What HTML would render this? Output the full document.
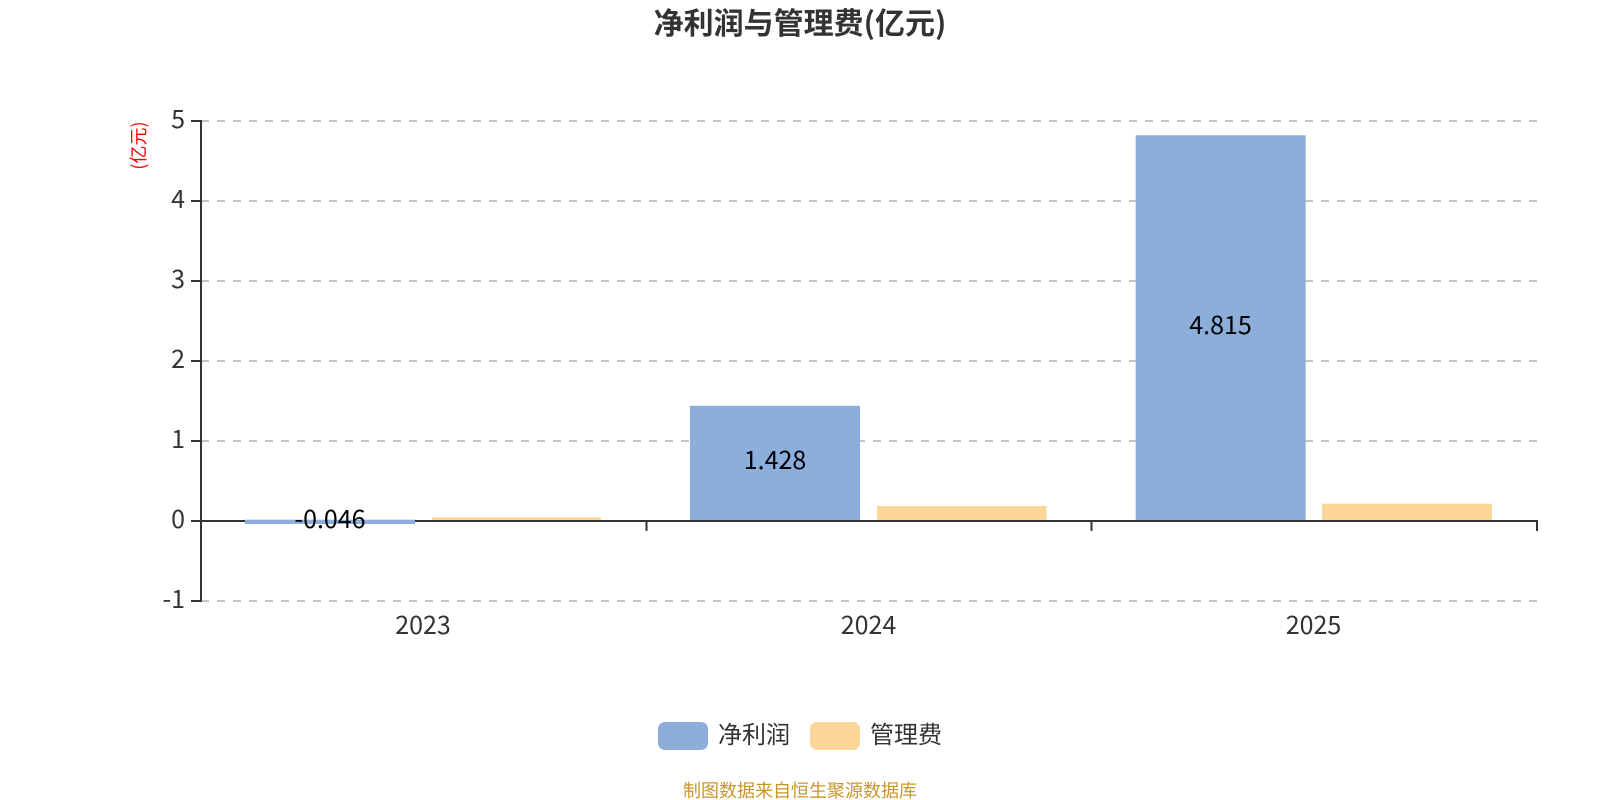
<!DOCTYPE html>
<html>
<head>
<meta charset="utf-8">
<style>
html,body{margin:0;padding:0;background:#fff;width:1600px;height:800px;overflow:hidden}
svg{display:block}
text{font-family:"Liberation Sans","Noto Sans CJK SC",sans-serif}
.n{font-family:"Noto Sans CJK SC",sans-serif;font-size:25px;fill:#333}
.d{font-family:"Noto Sans CJK SC",sans-serif;font-size:25px;fill:#000;text-anchor:middle}
</style>
</head>
<body>
<svg width="1600" height="800" viewBox="0 0 1600 800" xmlns="http://www.w3.org/2000/svg">
<text x="800" y="34" text-anchor="middle" font-size="30" font-weight="700" fill="#333" style="font-family:'Noto Sans CJK SC',sans-serif">净利润与管理费(亿元)</text>

<g stroke="#c4c4c4" stroke-width="2" stroke-dasharray="8 8" fill="none">
<path d="M201 121H1537"/><path d="M201 201H1537"/><path d="M201 281H1537"/>
<path d="M201 361H1537"/><path d="M201 441H1537"/><path d="M201 601H1537"/>
</g>

<g fill="#8dadda">
<rect x="690" y="405.8" width="170" height="115"/>
<rect x="1135.7" y="135.3" width="170" height="385.5"/>
</g>
<g fill="#fdd797">
<rect x="432" y="517.3" width="169" height="3.5"/>
<rect x="877" y="506" width="169.5" height="15"/>
<rect x="1322" y="503.7" width="170" height="17"/>
</g>

<g stroke="#333" stroke-width="2" fill="none">
<path d="M201 120V602"/>
<path d="M191 121H201M191 201H201M191 281H201M191 361H201M191 441H201M191 521H201M191 601H201"/>
<path d="M191 521H1538"/>
<path d="M646.5 521V531M1091.5 521V531M1537 521V531"/>
</g>

<rect x="245" y="519.7" width="170" height="4.3" fill="#8dadda"/>

<text class="n" x="185" y="128" text-anchor="end">5</text>
<text class="n" x="185" y="208" text-anchor="end">4</text>
<text class="n" x="185" y="288" text-anchor="end">3</text>
<text class="n" x="185" y="368" text-anchor="end">2</text>
<text class="n" x="185" y="448" text-anchor="end">1</text>
<text class="n" x="185" y="528" text-anchor="end">0</text>
<text class="n" x="185" y="608" text-anchor="end">-1</text>

<text class="n" x="423" y="634" text-anchor="middle">2023</text>
<text class="n" x="868.5" y="634" text-anchor="middle">2024</text>
<text class="n" x="1313.5" y="634" text-anchor="middle">2025</text>

<text class="d" x="330" y="528">-0.046</text>
<text class="d" x="775" y="469">1.428</text>
<text class="d" x="1220.5" y="334">4.815</text>

<text transform="translate(145,145.5) rotate(-90)" text-anchor="middle" font-size="18" fill="#f00" style="font-family:'Noto Sans CJK SC',sans-serif;font-weight:400">(亿元)</text>

<rect x="658" y="722" width="50" height="28" rx="7" fill="#8dadda"/>
<text x="718" y="743" font-size="24" fill="#333" style="font-family:'Noto Sans CJK SC',sans-serif">净利润</text>
<rect x="810" y="722" width="50" height="28" rx="7" fill="#fdd797"/>
<text x="870" y="743" font-size="24" fill="#333" style="font-family:'Noto Sans CJK SC',sans-serif">管理费</text>

<text x="800" y="797" text-anchor="middle" font-size="18" fill="#c8962a" style="font-family:'Noto Sans CJK SC',sans-serif">制图数据来自恒生聚源数据库</text>
</svg>
</body>
</html>
